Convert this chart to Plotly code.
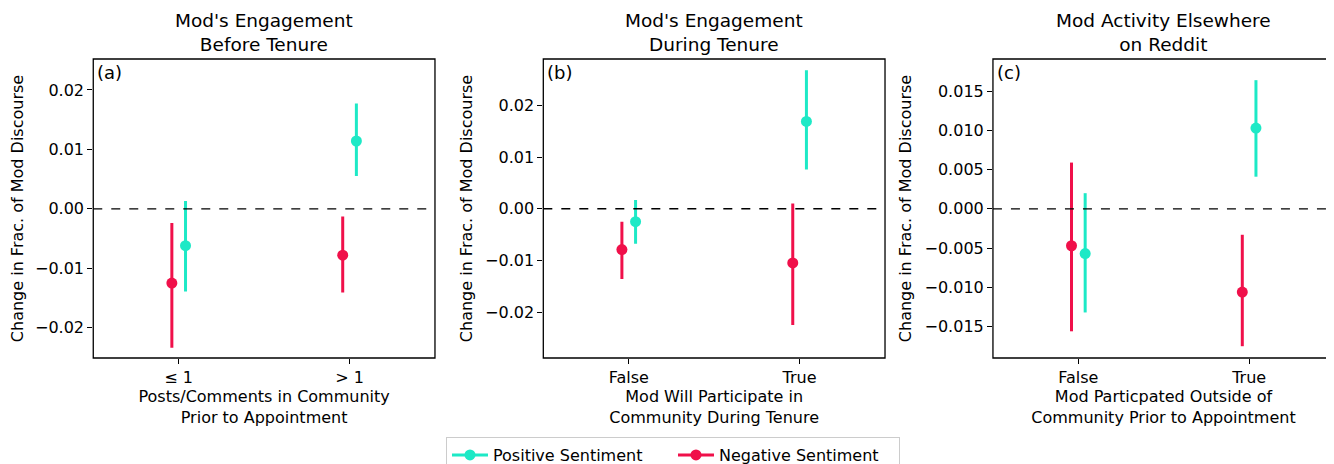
import plotly.graph_objects as go

# --- data ---
panel_titles = ["Mod's Engagement<br>Before Tenure",
                "Mod's Engagement<br>During Tenure",
                "Mod Activity Elsewhere<br>on Reddit"]
panel_tags = ["(a)", "(b)", "(c)"]
x_titles = ["Posts/Comments in Community<br>Prior to Appointment",
            "Mod Will Participate in<br>Community During Tenure",
            "Mod Particpated Outside of<br>Community Prior to Appointment"]
x_ticklabels = [["≤ 1", "> 1"], ["False", "True"], ["False", "True"]]

# positive sentiment: estimate, lower CI, upper CI  (per panel, two groups)
pos_est = [[-0.0062, 0.0114], [-0.0025, 0.0169], [-0.0057, 0.0103]]
pos_lo = [[-0.0139, 0.0055], [-0.0068, 0.0076], [-0.0132, 0.0041]]
pos_hi = [[0.0013, 0.0177], [0.0017, 0.0268], [0.0020, 0.0164]]

# negative sentiment
neg_est = [[-0.0125, -0.0078], [-0.0079, -0.0105], [-0.0047, -0.0106]]
neg_lo = [[-0.0234, -0.0141], [-0.0136, -0.0225], [-0.0156, -0.0175]]
neg_hi = [[-0.0024, -0.0013], [-0.0025, 0.0010], [0.0059, -0.0033]]

y_ranges = [[-0.0251, 0.0252], [-0.0289, 0.0290], [-0.0190, 0.0191]]
y_tickvals = [[-0.02, -0.01, 0.0, 0.01, 0.02],
              [-0.02, -0.01, 0.0, 0.01, 0.02],
              [-0.015, -0.01, -0.005, 0.0, 0.005, 0.01, 0.015]]
y_ticktext = [["−0.02", "−0.01", "0.00", "0.01", "0.02"],
              ["−0.02", "−0.01", "0.00", "0.01", "0.02"],
              ["−0.015", "−0.010", "−0.005", "0.000", "0.005", "0.010", "0.015"]]

POS_COLOR = '#1de9c6'
NEG_COLOR = '#f0104a'
FONT = 'DejaVu Sans'

# page body adds an 8px margin, so the figure is sized to fill the rest of the window
x_domains = [[0.0643, 0.3220], [0.4037, 0.6614], [0.7428, 1.0]]
y_domain = [0.2325, 0.8882]

fig = go.Figure()

for i in range(3):
    xa = 'x' if i == 0 else f'x{i + 1}'
    ya = 'y' if i == 0 else f'y{i + 1}'
    for est, lo, hi, color, shift in [(neg_est[i], neg_lo[i], neg_hi[i], NEG_COLOR, -0.04),
                                       (pos_est[i], pos_lo[i], pos_hi[i], POS_COLOR, 0.04)]:
        fig.add_trace(go.Scatter(
            x=[g + shift for g in range(2)], y=est,
            mode='markers', xaxis=xa, yaxis=ya, showlegend=False,
            marker=dict(color=color, size=11),
            error_y=dict(type='data', symmetric=False,
                         array=[h - e for h, e in zip(hi, est)],
                         arrayminus=[e - l for e, l in zip(est, lo)],
                         color=color, thickness=3, width=0)
        ))

    x_hi = 1.5 if i < 2 else 1.497
    axis_x = dict(domain=x_domains[i], range=[-0.5, x_hi], anchor=ya, automargin=False,
                  tickvals=[0, 1], ticktext=x_ticklabels[i],
                  ticks='outside', ticklen=5, tickcolor='black',
                  showgrid=False, zeroline=False, showline=False,
                  tickfont=dict(size=16, color='black'),
                  title=dict(text=x_titles[i], font=dict(size=16, color='black'), standoff=3))
    axis_y = dict(domain=y_domain, range=y_ranges[i], anchor=xa, automargin=False,
                  tickvals=y_tickvals[i], ticktext=y_ticktext[i],
                  ticks='outside', ticklen=5, tickcolor='black',
                  showgrid=False, zeroline=False, showline=False,
                  tickfont=dict(size=16, color='black'),
                  title=dict(text='Change in Frac. of Mod Discourse',
                             font=dict(size=16, color='black'), standoff=8))
    fig.layout['xaxis' if i == 0 else f'xaxis{i + 1}'] = axis_x
    fig.layout['yaxis' if i == 0 else f'yaxis{i + 1}'] = axis_y

    # frame (the last panel runs off the right edge of the canvas)
    fig.add_shape(type='rect', xref=f'{xa} domain', yref=f'{ya} domain',
                  x0=0, x1=1 if i < 2 else 1.02, y0=0, y1=1,
                  line=dict(color='black', width=1.3), layer='above')
    # zero reference line
    fig.add_shape(type='line', xref=f'{xa} domain', yref=ya,
                  x0=0, x1=1, y0=0, y1=0, line=dict(color='black', width=1.3, dash='dash'))
    # panel tag
    fig.add_annotation(xref=f'{xa} domain', yref=f'{ya} domain', x=0.005, y=0.995,
                       xanchor='left', yanchor='top', text=panel_tags[i], showarrow=False,
                       font=dict(size=18, color='black'))
    # panel title
    fig.add_annotation(xref='paper', yref='paper',
                       x=(x_domains[i][0] + x_domains[i][1]) / 2, y=y_domain[1] + 0.005,
                       xanchor='center', yanchor='bottom', text=panel_titles[i], showarrow=False,
                       font=dict(size=18.5, color='black'))

# legend entries (line + marker)
for name, color in [('Positive Sentiment', POS_COLOR), ('Negative Sentiment', NEG_COLOR)]:
    fig.add_trace(go.Scatter(x=[None], y=[None], mode='lines+markers', name=name,
                             line=dict(color=color, width=3), marker=dict(color=color, size=11)))

fig.update_layout(
    width=1326, height=456,
    margin=dict(l=0, r=0, t=0, b=0, autoexpand=False),
    plot_bgcolor='white', paper_bgcolor='white',
    font=dict(family=FONT, color='black'),
    showlegend=True,
    legend=dict(orientation='h', x=0.5015, xanchor='center', y=0.0592, yanchor='top',
                bordercolor='#cccccc', borderwidth=1, font=dict(size=16),
                itemwidth=36, entrywidth=175, tracegroupgap=0)
)

fig.write_html("out.html")
